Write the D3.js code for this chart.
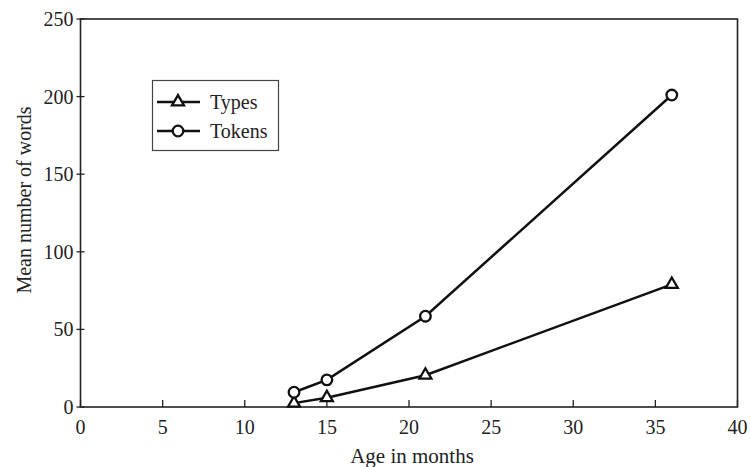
<!DOCTYPE html>
<html>
<head>
<meta charset="utf-8">
<script src="https://cdn.jsdelivr.net/npm/d3@7"></script>
<style>
  body { margin: 0; background: #fff; }
  svg text { font-family: "Liberation Serif", "Times New Roman", serif; fill: #222; }
</style>
</head>
<body>
<svg id="chart" width="751" height="467"></svg>
<script>
// chart data
const ages = [13, 15, 21, 36];
const types = [2.5, 6, 20.5, 79];
const tokens = [9.5, 17.5, 58.5, 201];
const xTicks = [0, 5, 10, 15, 20, 25, 30, 35, 40];
const yTicks = [0, 50, 100, 150, 200, 250];
const seriesNames = ["Types", "Tokens"];

const svg = d3.select("#chart");
const plotLeft = 80.5, plotRight = 737.5, plotTop = 19, plotBottom = 407;

const x = d3.scaleLinear().domain([0, 40]).range([plotLeft, plotRight]);
const y = d3.scaleLinear().domain([0, 250]).range([plotBottom, plotTop]);

// frame
svg.append("rect")
   .attr("x", plotLeft).attr("y", plotTop)
   .attr("width", plotRight - plotLeft).attr("height", plotBottom - plotTop)
   .attr("fill", "none").attr("stroke", "#222").attr("stroke-width", 1.6);

// x axis ticks (inside)
const xAxis = svg.append("g");
xAxis.selectAll("line").data(xTicks).enter().append("line")
   .attr("x1", d => x(d)).attr("x2", d => x(d))
   .attr("y1", plotBottom).attr("y2", plotBottom - 7)
   .attr("stroke", "#222").attr("stroke-width", 1.3);
xAxis.selectAll("text").data(xTicks).enter().append("text")
   .attr("x", d => x(d)).attr("y", 434)
   .attr("text-anchor", "middle").attr("font-size", 20)
   .text(d => d);

// y axis ticks (cross the axis)
const yAxis = svg.append("g");
yAxis.selectAll("line").data(yTicks).enter().append("line")
   .attr("x1", plotLeft - 4).attr("x2", plotLeft + 4)
   .attr("y1", d => y(d)).attr("y2", d => y(d))
   .attr("stroke", "#222").attr("stroke-width", 1.3);
yAxis.selectAll("text").data(yTicks).enter().append("text")
   .attr("x", plotLeft - 7).attr("y", d => y(d) + 7)
   .attr("text-anchor", "end").attr("font-size", 20)
   .text(d => d);

// axis titles
svg.append("text")
   .attr("x", 412).attr("y", 463)
   .attr("text-anchor", "middle").attr("font-size", 21)
   .text("Age in months");
svg.append("text")
   .attr("transform", "translate(31,200) rotate(-90)")
   .attr("text-anchor", "middle").attr("font-size", 20)
   .text("Mean number of words");

const line = d3.line().x(d => x(d[0])).y(d => y(d[1]));
const triangle = d3.symbol().type(d3.symbolTriangle).size(62);

function drawSeries(vals, marker) {
    const pts = ages.map((a, i) => [a, vals[i]]);
    svg.append("path").datum(pts)
       .attr("d", line).attr("fill", "none")
       .attr("stroke", "#111").attr("stroke-width", 2.5);
    const g = svg.append("g");
    g.selectAll("g").data(pts).enter().append("g")
       .attr("transform", d => `translate(${x(d[0])},${y(d[1])})`)
       .each(function() { marker(d3.select(this)); });
}

function tri(sel) {
    sel.append("path").attr("d", triangle)
       .attr("fill", "#fff").attr("stroke", "#111").attr("stroke-width", 2.3);
}
function circ(sel) {
    sel.append("circle").attr("r", 5.3)
       .attr("fill", "#fff").attr("stroke", "#111").attr("stroke-width", 2.3);
}

drawSeries(types, tri);
drawSeries(tokens, circ);

// legend
const legend = svg.append("g");
legend.append("rect")
   .attr("x", 152.5).attr("y", 80.5).attr("width", 126).attr("height", 70)
   .attr("fill", "#fff").attr("stroke", "#444").attr("stroke-width", 1.2);
const markers = [tri, circ];
seriesNames.forEach((name, i) => {
    const ly = 102 + i * 29;
    legend.append("line")
       .attr("x1", 157).attr("x2", 200).attr("y1", ly).attr("y2", ly)
       .attr("stroke", "#111").attr("stroke-width", 2.3);
    const m = legend.append("g").attr("transform", `translate(178,${ly})`);
    markers[i](m);
    legend.append("text")
       .attr("x", 210).attr("y", ly + 7).attr("font-size", 20)
       .text(name);
});
</script>
</body>
</html>
